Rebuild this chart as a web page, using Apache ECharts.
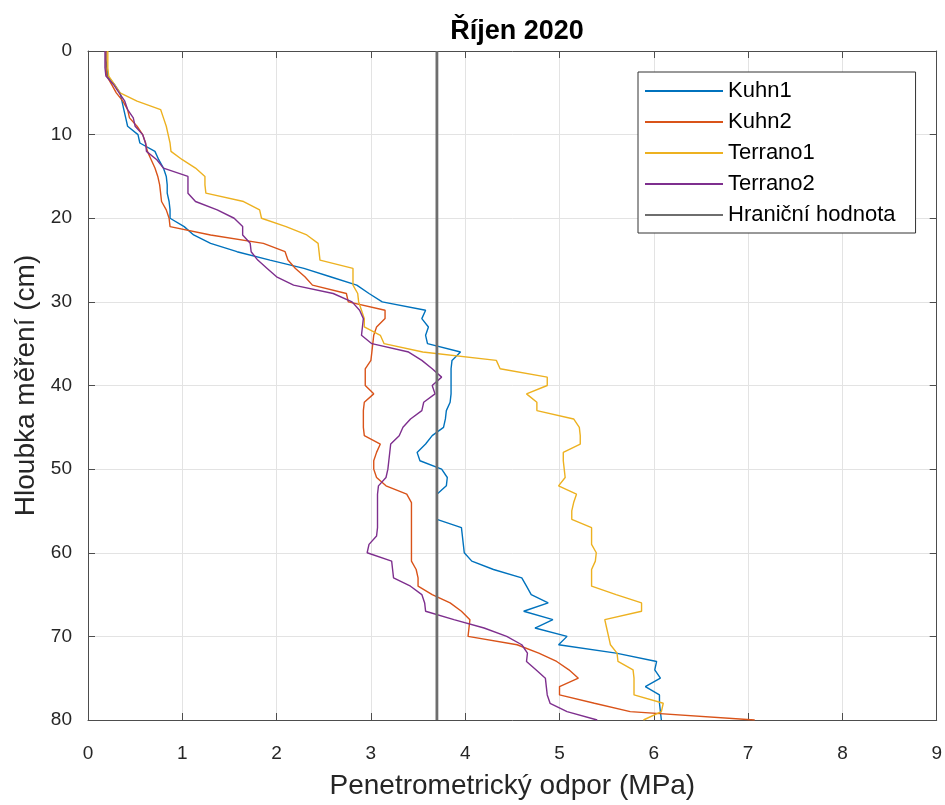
<!DOCTYPE html>
<html>
<head>
<meta charset="utf-8">
<script src="https://cdn.jsdelivr.net/npm/echarts@6/dist/echarts.min.js"></script>
<style>html,body{margin:0;padding:0;background:#fff}#c{width:945px;height:805px}</style>
</head>
<body>
<div id="c"></div>
<script>
var depths = [];
for (var i = 0; i <= 80; i++) depths.push(i);

var kuhn1 = [0.19,0.19,0.20,0.21,0.28,0.34,0.36,0.38,0.40,0.42,
  0.53,0.55,0.71,0.75,0.80,0.83,0.84,0.84,0.86,0.87,
  0.87,1.02,1.12,1.30,1.58,1.93,2.29,2.57,2.85,2.98,
  3.12,3.58,3.54,3.61,3.58,3.60,3.95,3.86,3.85,3.85,
  3.85,3.85,3.84,3.80,3.79,3.77,3.65,3.58,3.49,3.52,
  3.75,3.81,3.80,3.70,3.70,3.70,3.70,3.96,3.97,3.98,
  3.99,4.07,4.30,4.60,4.65,4.70,4.88,4.62,4.93,4.74,
  5.08,4.99,5.60,6.03,6.01,6.07,5.91,6.06,6.06,6.07,6.08];

var kuhn2 = [0.19,0.19,0.19,0.20,0.25,0.30,0.37,0.42,0.44,0.52,
  0.58,0.61,0.63,0.67,0.71,0.74,0.76,0.77,0.78,0.83,
  0.86,0.87,1.30,1.86,2.09,2.12,2.20,2.30,2.38,2.74,
  2.76,3.15,3.15,3.06,3.03,3.02,3.01,3.00,2.94,2.94,
  2.94,3.03,2.93,2.92,2.92,2.92,2.93,3.10,3.06,3.03,
  3.03,3.06,3.16,3.38,3.43,3.43,3.43,3.43,3.43,3.43,
  3.43,3.43,3.48,3.50,3.50,3.65,3.84,3.96,4.05,4.04,
  4.03,4.55,4.78,4.97,5.10,5.20,5.00,5.00,5.37,5.75,7.07];

var terrano1 = [0.21,0.21,0.21,0.22,0.28,0.34,0.52,0.77,0.80,0.83,
  0.85,0.87,0.88,1.00,1.14,1.24,1.24,1.25,1.65,1.82,
  1.84,2.10,2.32,2.44,2.45,2.46,2.81,2.81,2.81,2.86,
  2.87,2.90,2.93,2.93,3.10,3.14,3.55,4.33,4.37,4.87,
  4.87,4.65,4.76,4.76,5.15,5.21,5.22,5.22,5.04,5.04,
  5.05,5.06,4.99,5.18,5.15,5.13,5.13,5.34,5.34,5.34,
  5.39,5.38,5.34,5.34,5.34,5.60,5.87,5.87,5.48,5.50,
  5.52,5.54,5.61,5.62,5.78,5.79,5.79,5.79,6.10,6.08,5.89];

var terrano2 = [0.18,0.18,0.18,0.19,0.27,0.33,0.39,0.42,0.48,0.50,
  0.58,0.61,0.62,0.73,0.80,1.06,1.06,1.06,1.14,1.37,
  1.55,1.64,1.64,1.72,1.73,1.80,1.90,2.00,2.18,2.60,
  2.80,2.88,2.92,2.91,2.90,3.01,3.40,3.54,3.65,3.75,
  3.65,3.68,3.56,3.54,3.42,3.34,3.30,3.21,3.20,3.19,
  3.18,3.16,3.08,3.07,3.07,3.07,3.07,3.07,3.06,2.98,
  2.96,3.22,3.23,3.24,3.42,3.54,3.57,3.58,3.88,4.20,
  4.44,4.60,4.66,4.65,4.75,4.85,4.86,4.87,4.90,5.08,5.40];

var threshold = 3.7;
var thresholdDepths = [0, 80];

var seriesNames = ['Kuhn1','Kuhn2','Terrano1','Terrano2','Hraniční hodnota'];
var colors = ['#0072BD','#D95319','#EDB120','#7E2F8E','#6e6e6e'];
var xTicks = [0,1,2,3,4,5,6,7,8,9];
var yTicks = [0,10,20,30,40,50,60,70,80];

function pairs(vals){ return vals.map(function(v,i){ return [v, depths[i]]; }); }

var font = 'Liberation Sans, Arial, Helvetica, sans-serif';
var axisColor = '#4d4d4d';
var textColor = '#262626';

function mkLine(name, data, color, width){
  return {name:name, type:'line', data:data, symbol:'none', showSymbol:false, smooth:false,
    lineStyle:{color:color, width:width}, itemStyle:{color:color},
    emphasis:{disabled:true}, animation:false, clip:true};
}

var chart = echarts.init(document.getElementById('c'), null, {renderer:'canvas'});
chart.setOption({
  animation:false,
  backgroundColor:'#fff',
  textStyle:{fontFamily:font},
  title:{text:'Říjen 2020', left:512, textAlign:'center', top:13,
    textStyle:{fontFamily:font, fontSize:27, fontWeight:'bold', color:'#000'}},
  grid:{left:88, right:8, top:51, bottom:85, containLabel:false},
  legend:{
    orient:'vertical', left:638, top:72,
    padding:[8,20,7,6], itemGap:9, itemWidth:78, itemHeight:22,
    backgroundColor:'#fff', borderColor:'#333', borderWidth:1, borderRadius:0,
    itemStyle:{opacity:0, borderWidth:0},
    textStyle:{fontFamily:font, fontSize:22, color:'#000'},
    data:seriesNames
  },
  xAxis:[{
    type:'value', min:0, max:9, interval:1, position:'bottom',
    name:'Penetrometrický odpor (MPa)', nameLocation:'middle', nameGap:52,
    nameTextStyle:{fontFamily:font, fontSize:28, color:textColor},
    axisLine:{show:true, onZero:false, lineStyle:{color:axisColor, width:1}},
    axisTick:{show:true, inside:true, length:7, lineStyle:{color:axisColor}},
    axisLabel:{fontFamily:font, fontSize:19, color:textColor, margin:24,
      formatter:function(v){return xTicks.indexOf(v)>=0 ? String(v) : '';}},
    splitLine:{show:true, lineStyle:{color:'#e3e3e3', width:1}}
  },{
    type:'value', min:0, max:9, interval:1, position:'top',
    axisLine:{show:true, onZero:false, lineStyle:{color:axisColor, width:1}},
    axisTick:{show:true, inside:true, length:7, lineStyle:{color:axisColor}},
    axisLabel:{show:false}, splitLine:{show:false}
  }],
  yAxis:[{
    type:'value', min:0, max:80, interval:10, inverse:true, position:'left',
    name:'Hloubka měření (cm)', nameLocation:'middle', nameGap:47, nameRotate:90,
    nameTextStyle:{fontFamily:font, fontSize:28, color:textColor},
    axisLine:{show:true, onZero:false, lineStyle:{color:axisColor, width:1}},
    axisTick:{show:true, inside:true, length:7, lineStyle:{color:axisColor}},
    axisLabel:{fontFamily:font, fontSize:19, color:textColor, margin:16,
      formatter:function(v){return yTicks.indexOf(v)>=0 ? String(v) : '';}},
    splitLine:{show:true, lineStyle:{color:'#e3e3e3', width:1}}
  },{
    type:'value', min:0, max:80, interval:10, inverse:true, position:'right',
    axisLine:{show:true, onZero:false, lineStyle:{color:axisColor, width:1}},
    axisTick:{show:true, inside:true, length:7, lineStyle:{color:axisColor}},
    axisLabel:{show:false}, splitLine:{show:false}
  }],
  series:[
    mkLine(seriesNames[0], pairs(kuhn1), colors[0], 1.4),
    mkLine(seriesNames[1], pairs(kuhn2), colors[1], 1.4),
    mkLine(seriesNames[2], pairs(terrano1), colors[2], 1.4),
    mkLine(seriesNames[3], pairs(terrano2), colors[3], 1.4),
    mkLine(seriesNames[4], thresholdDepths.map(function(d){return [threshold, d];}), colors[4], 2.8)
  ]
});
</script>
</body>
</html>
